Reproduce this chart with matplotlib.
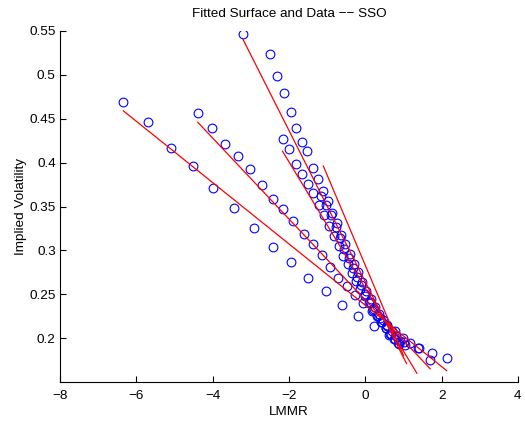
import matplotlib
matplotlib.use("Agg")
import matplotlib.pyplot as plt
import numpy as np

plt.rcParams['font.family'] = ['Liberation Sans', 'DejaVu Sans']

# Observed data (LMMR, implied vol) by maturity group
g1_x = [-6.34, -5.70, -5.10, -4.52, -3.98, -3.44, -2.92, -2.43, -1.95, -1.49,
        -1.04, -0.60, -0.18, 0.23, 0.62, 1.00, 1.37, 1.74, 2.13]
g1_y = [0.469, 0.446, 0.417, 0.396, 0.371, 0.348, 0.325, 0.304, 0.287, 0.269,
        0.254, 0.238, 0.225, 0.214, 0.204, 0.196, 0.189, 0.183, 0.177]

g2_x = [-4.39, -4.02, -3.67, -3.34, -3.02, -2.71, -2.42, -2.15, -1.89, -1.62,
        -1.38, -1.14, -0.92, -0.71, -0.49, -0.27, -0.05, 0.17, 0.38, 0.58,
        0.78, 0.98, 1.18, 1.40, 1.70]
g2_y = [0.457, 0.440, 0.421, 0.408, 0.393, 0.375, 0.359, 0.347, 0.333, 0.319,
        0.307, 0.295, 0.281, 0.269, 0.259, 0.249, 0.240, 0.231, 0.223, 0.215,
        0.208, 0.200, 0.194, 0.189, 0.175]

g3_x = [-3.20, -2.50, -2.31, -2.13, -1.96, -1.81, -1.66, -1.52, -1.38, -1.25,
        -1.12, -0.99, -0.87, -0.75, -0.63, -0.52, -0.41, -0.30, -0.19, -0.08,
        0.03, 0.14, 0.25, 0.36, 0.47, 0.58, 0.69, 0.80, 0.92, 1.05]
g3_y = [0.547, 0.524, 0.499, 0.479, 0.458, 0.439, 0.423, 0.413, 0.394, 0.381,
        0.368, 0.356, 0.343, 0.331, 0.318, 0.307, 0.296, 0.285, 0.275, 0.264,
        0.254, 0.245, 0.236, 0.228, 0.221, 0.214, 0.208, 0.202, 0.197, 0.192]

g4_x = [-2.17, -2.00, -1.82, -1.65, -1.51, -1.36, -1.22, -1.08, -0.95, -0.82,
        -0.70, -0.58, -0.46, -0.35, -0.24, -0.13, -0.02, 0.09, 0.20, 0.31,
        0.42, 0.53, 0.64, 0.75, 0.86]
g4_y = [0.427, 0.416, 0.398, 0.387, 0.376, 0.365, 0.352, 0.340, 0.328, 0.316,
        0.305, 0.294, 0.284, 0.274, 0.265, 0.256, 0.248, 0.240, 0.232, 0.225,
        0.218, 0.211, 0.205, 0.199, 0.194]

g5_x = [-1.15, -1.02, -0.90, -0.78, -0.66, -0.55, -0.44, -0.33, -0.22, -0.11,
        0.00, 0.11, 0.22, 0.33, 0.44, 0.55, 0.66, 0.77, 0.88]
g5_y = [0.362, 0.352, 0.340, 0.327, 0.314, 0.302, 0.291, 0.280, 0.270, 0.260,
        0.250, 0.241, 0.233, 0.225, 0.218, 0.211, 0.205, 0.199, 0.193]

# Fitted surface slices: start/end LMMR and vol
fit_x0 = [-6.34, -4.39, -3.20, -2.17, -1.10]
fit_x1 = [2.13, 1.70, 1.08, 1.35, 1.00]
fit_y0 = [0.459, 0.446, 0.540, 0.413, 0.396]
fit_y1 = [0.163, 0.165, 0.171, 0.160, 0.180]

xticks = [-8, -6, -4, -2, 0, 2, 4]
yticks = [0.2, 0.25, 0.3, 0.35, 0.4, 0.45, 0.5, 0.55]

FS = 9.7

fig = plt.figure(figsize=(5.25, 4.23), dpi=100)
ax = fig.add_axes([60/525, 1-382/423, 458/525, 351/423])

for gx, gy in [(g1_x, g1_y), (g2_x, g2_y), (g3_x, g3_y), (g4_x, g4_y), (g5_x, g5_y)]:
    ax.plot(gx, gy, 'o', ms=6.3, mfc='none', mec=(0, 0, 1), mew=0.8, ls='none')

for x0, x1, y0, y1 in zip(fit_x0, fit_x1, fit_y0, fit_y1):
    ax.plot([x0, x1], [y0, y1], '-', color=(1, 0, 0), lw=0.9)

ax.set_xlim(-8, 4)
ax.set_ylim(0.15, 0.55)
ax.set_xticks(xticks)
ax.set_yticks(yticks)
ax.set_xticklabels([str(t).replace('-', '\u2212') for t in xticks])
ax.set_yticklabels([('%g' % t) for t in yticks])
ax.spines['top'].set_visible(False)
ax.spines['right'].set_visible(False)
ax.spines['left'].set_linewidth(0.8)
ax.spines['bottom'].set_linewidth(0.8)
ax.tick_params(direction='in', length=4, width=0.8, labelsize=FS, colors='black')
ax.tick_params(axis='x', pad=5.5)
ax.tick_params(axis='y', pad=3)
ax.set_xlabel('LMMR', fontsize=FS, labelpad=3)
ax.set_ylabel('Implied Volatility', fontsize=FS, labelpad=1.5)
ax.set_title('Fitted Surface and Data \u2212\u2212 SSO', fontsize=FS, pad=10)

fig.savefig('out.png', dpi=100)
